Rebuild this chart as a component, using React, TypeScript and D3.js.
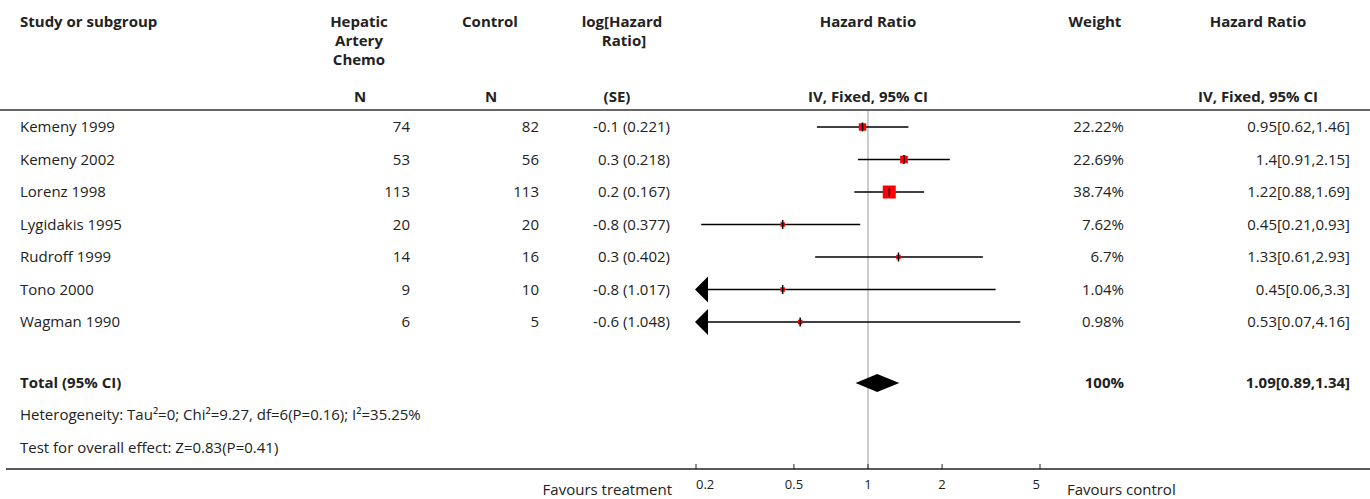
import React from 'react';
import * as d3 from 'd3';

// study rows
const studies = ['Kemeny 1999', 'Kemeny 2002', 'Lorenz 1998', 'Lygidakis 1995', 'Rudroff 1999', 'Tono 2000', 'Wagman 1990'];
const treatN = [74, 53, 113, 20, 14, 9, 6];
const controlN = [82, 56, 113, 20, 16, 10, 5];
const logHr = [-0.1, 0.3, 0.2, -0.8, 0.3, -0.8, -0.6];
const logSe = [0.221, 0.218, 0.167, 0.377, 0.402, 1.017, 1.048];
const weights = [22.22, 22.69, 38.74, 7.62, 6.7, 1.04, 0.98];
const hr = [0.95, 1.4, 1.22, 0.45, 1.33, 0.45, 0.53];
const ciLow = [0.62, 0.91, 0.88, 0.21, 0.61, 0.06, 0.07];
const ciHigh = [1.46, 2.15, 1.69, 0.93, 2.93, 3.3, 4.16];

// pooled
const totalHr = 1.09;
const totalLow = 0.89;
const totalHigh = 1.34;
const heterogeneity = 'Heterogeneity: Tau²=0; Chi²=9.27, df=6(P=0.16); I²=35.25%';
const overallTest = 'Test for overall effect: Z=0.83(P=0.41)';

const axisTicks = [0.2, 0.5, 1, 2, 5];

const W = 1370;
const H = 499;
const FONT = '"Open Sans", sans-serif';
const INK = '#222';

export default function App() {
  const x = d3.scaleLog().domain([0.2, 5]).range([696, 1040]);
  const y = d3.scaleLinear().domain([0, studies.length - 1]).range([127, 322]);
  const box = d3.scaleLinear().domain([0, d3.max(weights) as number]).range([0, 13]);

  const totalY = 383;
  const axisY = 469;
  const lo = x.domain()[0];
  const hi = x.domain()[1];

  const col = { study: 20, treat: 410, control: 539, logHr: 670, weight: 1124, ci: 1350 };

  const head = (t: string, cx: number, yy: number) => (
    <text key={t + cx + yy} x={cx} y={yy} textAnchor="middle" fontWeight="bold">{t}</text>
  );

  const diamond = d3.line()([
    [x(totalLow), totalY],
    [x(totalHr), totalY - 9],
    [x(totalHigh), totalY],
    [x(totalHr), totalY + 9],
  ]) + 'Z';

  // end labels sit inside the axis range
  const tickAnchor = (t: number) => (t === lo ? 'start' : t === hi ? 'end' : 'middle');

  return (
    <svg width={W} height={H} style={{ position: 'absolute', left: 0, top: 0 }} fontFamily={FONT} fontSize={15} fill={INK}>
      <rect width={W} height={H} fill="#fff" />

      {/* header */}
      <text x={col.study} y={27} fontWeight="bold">Study or subgroup</text>
      {head('Hepatic', 359, 27)}
      {head('Artery', 359, 46)}
      {head('Chemo', 359, 65)}
      {head('N', 360, 102)}
      {head('Control', 490, 27)}
      {head('N', 491, 102)}
      {head('log[Hazard', 622, 27)}
      {head('Ratio]', 624, 46)}
      {head('(SE)', 617, 102)}
      {head('Hazard Ratio', x(1), 27)}
      {head('IV, Fixed, 95% CI', x(1), 102)}
      {head('Weight', 1095, 27)}
      {head('Hazard Ratio', 1258, 27)}
      {head('IV, Fixed, 95% CI', 1258, 102)}
      <line x1={0} x2={W} y1={110} y2={110} stroke="#333" strokeWidth={1.5} />

      {/* null line */}
      <line x1={x(1)} x2={x(1)} y1={111} y2={axisY} stroke="#999" strokeWidth={1} />

      {/* study rows */}
      {studies.map((s, i) => {
        const yy = y(i);
        const left = Math.max(ciLow[i], lo);
        const right = Math.min(ciHigh[i], hi);
        const sz = Math.max(box(weights[i]), 4.5);
        return (
          <g key={s}>
            <text x={col.study} y={yy + 5}>{s}</text>
            <text x={col.treat} y={yy + 5} textAnchor="end">{treatN[i]}</text>
            <text x={col.control} y={yy + 5} textAnchor="end">{controlN[i]}</text>
            <text x={col.logHr} y={yy + 5} textAnchor="end">{`${logHr[i]} (${logSe[i]})`}</text>
            <text x={col.weight} y={yy + 5} textAnchor="end">{`${weights[i]}%`}</text>
            <text x={col.ci} y={yy + 5} textAnchor="end">{`${hr[i]}[${ciLow[i]},${ciHigh[i]}]`}</text>
            <line x1={x(left)} x2={x(right)} y1={yy} y2={yy} stroke="#000" strokeWidth={1.5} />
            {ciLow[i] < lo && (
              <path d={`M${x(lo) - 1},${yy}L${x(lo) + 12},${yy - 13}L${x(lo) + 12},${yy + 13}Z`} fill="#000" />
            )}
            <rect x={x(hr[i]) - sz / 2} y={yy - sz / 2} width={sz} height={sz} fill="#f00" />
            <line x1={x(hr[i])} x2={x(hr[i])} y1={yy - 4.5} y2={yy + 4.5} stroke="#000" strokeWidth={1.5} />
          </g>
        );
      })}

      {/* total */}
      <text x={col.study} y={totalY + 5} fontWeight="bold">Total (95% CI)</text>
      <text x={col.weight} y={totalY + 5} textAnchor="end" fontWeight="bold">100%</text>
      <text x={col.ci} y={totalY + 5} textAnchor="end" fontWeight="bold">{`${totalHr}[${totalLow},${totalHigh}]`}</text>
      <path d={diamond} fill="#000" />
      <text x={col.study} y={420}>{heterogeneity}</text>
      <text x={col.study} y={453}>{overallTest}</text>

      {/* axis */}
      <line x1={6} x2={W} y1={axisY} y2={axisY} stroke="#222" strokeWidth={1.5} />
      {axisTicks.map((t) => (
        <g key={t}>
          <line x1={x(t)} x2={x(t)} y1={axisY - 5} y2={axisY} stroke="#222" strokeWidth={1} />
          <text x={x(t)} y={489} textAnchor={tickAnchor(t)} fontSize={13}>{t}</text>
        </g>
      ))}
      <text x={672} y={495} textAnchor="end">Favours treatment</text>
      <text x={1067} y={495}>Favours control</text>
    </svg>
  );
}
